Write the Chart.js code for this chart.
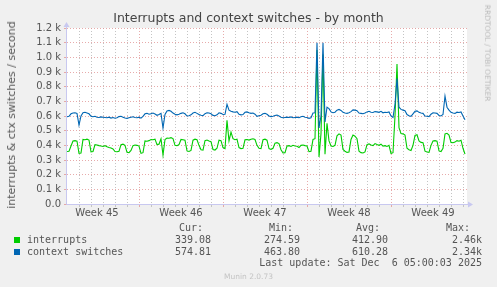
<!DOCTYPE html>
<html>
<head>
<meta charset="utf-8">
<script src="https://cdn.jsdelivr.net/npm/chart.js@4/dist/chart.umd.min.js"></script>
<style>
    html, body { margin: 0; padding: 0; background: #f0f0f0; }
    #wrap { position: relative; width: 497px; height: 287px; overflow: hidden; }
    #chart { position: absolute; left: 0; top: 0; }
    .txt { position: absolute; white-space: pre; color: #555; line-height: 12px; height: 12px; }
    .mono { font-family: 'DejaVu Sans Mono', monospace; font-size: 10px; }
    .sans { font-family: 'DejaVu Sans', sans-serif; }
    .sq { position: absolute; width: 6px; height: 6px; }
</style>
</head>
<body>
<div id="wrap">
    <canvas id="chart" width="497" height="287"></canvas>
</div>
<script>
// 4-hour samples, starting at the left edge of the plot
const stepHours = 4;

const interrupts = [
    358, 360, 395, 430, 432, 428,
    345, 348, 440, 438, 442, 436,
    355, 358, 405, 402, 398, 395,
    392, 398, 390, 385, 382, 375,
    358, 356, 360, 405, 408, 400,
    352, 350, 365, 398, 402, 400,
    395, 345, 350, 430, 428, 432,
    440, 438, 442, 405, 408, 445,
    334, 440, 450, 448, 452, 446,
    400, 398, 405, 440, 438, 435,
    362, 358, 365, 435, 442, 438,
    400, 370, 368, 432, 436, 430,
    425, 372, 368, 380, 435, 432,
    385, 378, 570, 430, 490, 445,
    438, 442, 385, 378, 380, 438,
    440, 436, 442, 445, 440, 400,
    380, 378, 438, 442, 435, 378,
    372, 380, 415, 418, 412, 370,
    348, 350, 395, 398, 392, 400,
    396, 394, 385, 400, 402, 398,
    395, 357, 360, 440, 445, 1050,
    320, 480, 1020, 340, 550, 430,
    395, 392, 400, 465, 478, 470,
    372, 360, 352, 355, 440, 470,
    462, 445, 360, 350, 348, 355,
    405, 410, 402, 398, 412, 405,
    400, 408, 395, 398, 392, 400,
    345, 350, 600, 955, 520, 480,
    478, 470, 380, 370, 365, 400,
    468, 472, 430, 420, 418, 360,
    355, 352, 400, 430, 432, 428,
    362, 358, 380, 478, 482, 470,
    420, 418, 422, 432, 428, 435,
    380, 340,
];

const contextSwitches = [
    595, 598, 615, 620, 622, 618,
    538, 600, 622, 625, 620, 615,
    598, 595, 598, 592, 590, 594,
    592, 590, 588, 592, 586, 590,
    585, 588, 596, 598, 592, 586,
    584, 588, 592, 595, 590, 588,
    592, 585, 598, 615, 618, 612,
    616, 620, 614, 605, 610, 618,
    518, 610, 635, 638, 632, 620,
    612, 608, 612, 618, 622, 615,
    600, 602, 608, 620, 625, 618,
    610, 605, 602, 616, 622, 620,
    615, 604, 602, 608, 622, 618,
    610, 612, 680, 640, 632, 628,
    626, 630, 612, 608, 610, 625,
    628, 622, 618, 620, 612, 598,
    602, 605, 615, 618, 612, 600,
    596, 598, 604, 606, 600, 592,
    588, 590, 592, 590, 594, 588,
    590, 592, 588, 595, 598, 592,
    590, 584, 588, 620, 622, 1100,
    518, 600, 1100, 560, 660, 650,
    628, 622, 626, 640, 645, 638,
    625, 620, 618, 622, 630, 642,
    640, 636, 620, 618, 615, 620,
    628, 632, 626, 624, 630, 628,
    625, 632, 622, 626, 624, 628,
    600, 590, 680, 855, 660, 645,
    640, 636, 610, 602, 598, 615,
    632, 635, 625, 620, 618, 600,
    598, 596, 612, 622, 620, 618,
    604, 600, 610, 736, 660, 640,
    625, 620, 618, 626, 624, 628,
    600, 575,
];

const weekLabels = ['Week 45', 'Week 46', 'Week 47', 'Week 48', 'Week 49'];
const yTickLabels = ['0.0', '0.1 k', '0.2 k', '0.3 k', '0.4 k', '0.5 k', '0.6 k',
    '0.7 k', '0.8 k', '0.9 k', '1.0 k', '1.1 k', '1.2 k'];

const seriesNames = ['interrupts', 'context switches'];
const seriesColors = ['#00cc00', '#0066b3'];
const curValues = ['339.08', '574.81'];
const minValues = ['274.59', '463.80'];
const avgValues = ['412.90', '610.28'];
const maxValues = ['2.46k', '2.34k'];
const lastUpdate = 'Last update: Sat Dec  6 05:00:03 2025';

// hours from left edge: first week label centre, week boundary offset
const firstLabelHour = 60;
const firstWeekHour = 144;
const spanHours = 800;

const wrap = document.getElementById('wrap');

function addText(text, cls, style) {
    const el = document.createElement('div');
    el.className = 'txt ' + cls;
    el.textContent = text;
    Object.assign(el.style, style);
    wrap.appendChild(el);
    return el;
}

// title & side texts
addText('Interrupts and context switches - by month', 'sans',
    { left: '0px', width: '497px', textAlign: 'center', top: '11px', fontSize: '12.5px', color: '#444', lineHeight: '14px' });
addText('interrupts & ctx switches / second', 'sans',
    { left: '12px', top: '115px', fontSize: '11px', transform: 'translate(-50%, -50%) rotate(-90deg)' });
addText('RRDTOOL / TOBI OETIKER', 'sans',
    { left: '487px', top: '53px', fontSize: '7.5px', color: '#bbb', transform: 'translate(-50%, -50%) rotate(90deg)' });
addText('Munin 2.0.73', 'sans',
    { left: '0px', width: '497px', textAlign: 'center', top: '271px', fontSize: '7.5px', color: '#c4c4c4' });

// legend
const colRight = [203, 293, 380, 470];
const valRight = [211, 300, 388, 482];
['Cur:', 'Min:', 'Avg:', 'Max:'].forEach((h, i) => {
    addText(h, 'mono', { right: (497 - colRight[i]) + 'px', top: '222px' });
});
seriesNames.forEach((name, r) => {
    const yc = 240 + r * 12;
    const sq = document.createElement('div');
    sq.className = 'sq';
    sq.style.left = '14px';
    sq.style.top = (yc - 3) + 'px';
    sq.style.background = seriesColors[r];
    wrap.appendChild(sq);
    addText(name, 'mono', { left: '27px', top: (yc - 6) + 'px' });
    [curValues, minValues, avgValues, maxValues].forEach((vals, i) => {
        addText(vals[r], 'mono', { right: (497 - valRight[i]) + 'px', top: (yc - 6) + 'px' });
    });
});
addText(lastUpdate, 'mono', { right: '15px', top: '257px' });

const toPoints = arr => arr.map((v, i) => ({ x: i * stepHours, y: v }));

const plotBg = {
    id: 'plotBg',
    beforeDraw(chart) {
        const { ctx, chartArea: a } = chart;
        ctx.save();
        ctx.fillStyle = '#ffffff';
        ctx.fillRect(a.left, a.top, a.right - a.left, a.bottom - a.top);
        ctx.restore();
    },
    afterDraw(chart) {
        const { ctx, chartArea: a } = chart;
        ctx.save();
        ctx.strokeStyle = '#c8c8f0';
        ctx.fillStyle = '#c8c8f0';
        ctx.lineWidth = 1;
        ctx.beginPath();
        ctx.moveTo(a.left - 0.5, a.bottom + 0.5);
        ctx.lineTo(a.right + 2, a.bottom + 0.5);
        ctx.moveTo(a.left - 0.5, a.bottom + 0.5);
        ctx.lineTo(a.left - 0.5, a.top - 2);
        ctx.stroke();
        ctx.beginPath();
        ctx.moveTo(a.right + 6, a.bottom + 0.5);
        ctx.lineTo(a.right + 1, a.bottom - 2.5);
        ctx.lineTo(a.right + 1, a.bottom + 3.5);
        ctx.fill();
        ctx.beginPath();
        ctx.moveTo(a.left - 0.5, a.top - 6);
        ctx.lineTo(a.left - 3.5, a.top - 1);
        ctx.lineTo(a.left + 2.5, a.top - 1);
        ctx.fill();
        ctx.restore();
    }
};

const redGrid = 'rgba(225, 150, 150, 0.8)';
const grayGrid = 'rgba(190, 190, 190, 0.9)';

new Chart(document.getElementById('chart'), {
    type: 'line',
    data: {
        datasets: [
            {
                label: seriesNames[0],
                data: toPoints(interrupts),
                borderColor: seriesColors[0],
                borderWidth: 1.1,
                pointRadius: 0,
                tension: 0,
                order: 1,
            },
            {
                label: seriesNames[1],
                data: toPoints(contextSwitches),
                borderColor: seriesColors[1],
                borderWidth: 1.1,
                pointRadius: 0,
                tension: 0,
                order: 0,
            },
        ]
    },
    options: {
        responsive: false,
        animation: false,
        events: [],
        layout: { padding: { left: 0, right: 30, top: 28, bottom: 60 } },
        plugins: {
            legend: { display: false },
            title: { display: false },
            tooltip: { enabled: false },
        },
        scales: {
            x: {
                type: 'linear',
                min: 0,
                max: spanHours,
                afterBuildTicks: scale => {
                    const ticks = [];
                    for (let h = 0; h < spanHours; h += 12) ticks.push({ value: h });
                    scale.ticks = ticks;
                },
                afterFit: scale => { scale.height = 23; },
                ticks: {
                    autoSkip: false,
                    maxRotation: 0,
                    padding: 0,
                    color: '#555',
                    font: { family: 'DejaVu Sans', size: 10 },
                    callback: v => {
                        const k = (v - firstLabelHour) / 168;
                        return Number.isInteger(k) && weekLabels[k] ? weekLabels[k] : '';
                    },
                },
                grid: {
                    tickLength: 3,
                    lineWidth: 1,
                    color: c => {
                        const h = c.tick ? c.tick.value : 0;
                        if (h === 0 || h % 24 !== 0) return 'rgba(0,0,0,0)';
                        return (h - firstWeekHour) % 168 === 0 ? redGrid : grayGrid;
                    },
                },
                border: { display: false, dash: [1, 2] },
            },
            y: {
                min: 0,
                max: 1200,
                afterFit: scale => { scale.width = 67; },
                ticks: {
                    stepSize: 100,
                    autoSkip: false,
                    padding: 3,
                    color: '#555',
                    font: { family: 'DejaVu Sans', size: 10 },
                    callback: (v, i) => yTickLabels[Math.round(v / 100)],
                },
                grid: {
                    tickLength: 3,
                    color: redGrid,
                },
                border: { display: false, dash: [1, 2] },
            },
        },
    },
    plugins: [plotBg],
});
</script>
</body>
</html>
